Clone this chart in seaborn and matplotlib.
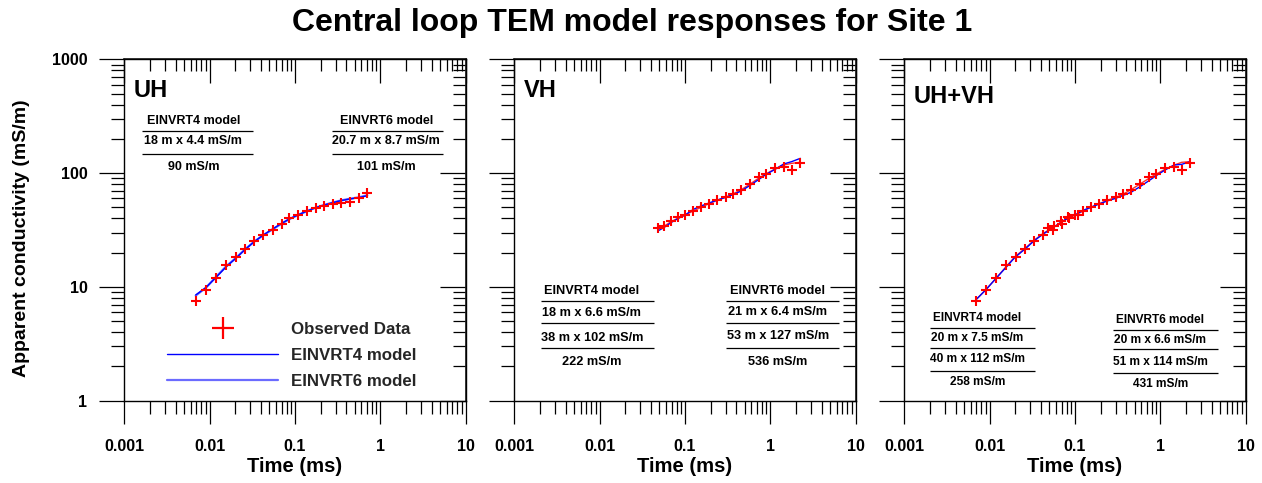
import numpy as np
import matplotlib
matplotlib.use("Agg")
import matplotlib.pyplot as plt
from matplotlib.ticker import FixedLocator, FixedFormatter, LogLocator, NullFormatter
from matplotlib.lines import Line2D
import seaborn as sns

sns.set_theme(style="white")
plt.rcParams["font.family"] = ["Liberation Sans", "DejaVu Sans"]
plt.rcParams["font.weight"] = "bold"

# ---------------- data ----------------
# UH (horizontal, in-line) sounding
uh_time = [0.00687, 0.0090, 0.01197, 0.01567, 0.0202, 0.0262, 0.0333, 0.0426, 0.0548, 0.0698,
           0.0857, 0.1077, 0.138, 0.175, 0.220, 0.277, 0.346, 0.438, 0.557, 0.703]
uh_obs = [7.56, 9.4, 11.9, 15.6, 18.4, 21.4, 25.5, 28.6, 31.6, 35.7,
          40.1, 42.8, 46.4, 49.7, 51.7, 53.2, 54.3, 56.1, 60.8, 67.3]
uh_inv4 = [8.49, 9.84, 12.2, 15.06, 17.8, 21.4, 24.97, 28.6, 32.3, 36.2,
           39.5, 42.8, 46.4, 49.7, 52.4, 55.0, 57.3, 59.2, 60.8, 63.3]
uh_inv6 = [8.4, 9.8, 12.3, 15.2, 17.9, 21.5, 25.0, 28.5, 32.1, 36.0,
           39.4, 42.7, 46.3, 49.7, 52.5, 55.1, 57.5, 59.5, 61.2, 63.8]

# VH (vertical) sounding
vh_time = [0.0487, 0.0567, 0.0685, 0.0835, 0.100, 0.1252, 0.154, 0.191, 0.239, 0.2996,
           0.362, 0.449, 0.572, 0.736, 0.882, 1.134, 1.432, 1.777, 2.246]
vh_obs = [33.2, 34.3, 37.9, 40.9, 42.8, 46.8, 50.0, 53.9, 57.6, 61.3,
          65.9, 71.5, 80.8, 93.0, 98.2, 110.1, 113.9, 106.5, 121.8]
vh_inv4 = [31.2, 33.2, 36.7, 40.0, 42.8, 48.0, 51.4, 54.6, 58.0, 61.3,
           64.6, 69.2, 77.6, 88.2, 96.9, 107.9, 120.2, 126.1, 134.8]
vh_inv6 = [32.5, 34.1, 37.4, 40.3, 42.8, 46.5, 50.0, 53.9, 57.6, 61.3,
           65.5, 71.0, 79.7, 90.6, 98.2, 108.6, 117.8, 121.8, 124.4]

# joint UH+VH inversion
joint_time = [0.00687, 0.0090, 0.01197, 0.01567, 0.0202, 0.0262, 0.0333, 0.0426, 0.0548, 0.0698,
              0.0857, 0.1077,
              0.0487, 0.0567, 0.0685, 0.0835, 0.100, 0.1252, 0.154, 0.191, 0.239, 0.2996,
              0.362, 0.449, 0.572, 0.736, 0.882, 1.134, 1.432, 1.777, 2.246]
joint_obs = [7.56, 9.4, 11.9, 15.6, 18.4, 21.4, 25.5, 28.6, 31.6, 35.7,
             40.1, 42.8,
             33.2, 34.3, 37.9, 40.9, 42.8, 46.8, 50.0, 53.9, 57.6, 61.3,
             65.9, 71.5, 80.8, 93.0, 98.2, 110.1, 113.9, 106.5, 121.8]
joint_model_time = [0.00705, 0.00898, 0.01208, 0.01583, 0.01982, 0.02595, 0.03338, 0.04256, 0.05573,
                    0.0698, 0.0858, 0.1027, 0.1274, 0.1526, 0.1876, 0.2392, 0.2996, 0.3684,
                    0.4531, 0.5776, 0.7363, 0.8815, 1.134, 1.458, 1.777, 2.246]
joint_inv4 = [7.83, 9.40, 12.06, 15.07, 18.2, 21.5, 25.5, 29.2, 33.2, 37.4, 40.9, 43.4, 47.4,
              50.0, 53.2, 56.9, 60.0, 63.8, 67.8, 76.0, 85.8, 94.3, 106.5, 117.8, 119.4, 126.1]
joint_inv6 = [7.83, 9.40, 12.06, 15.27, 18.44, 21.8, 25.8, 29.6, 33.4, 37.2, 40.6, 43.1, 46.8,
              50.0, 53.5, 57.6, 61.3, 65.5, 71.5, 80.2, 89.9, 97.5, 107.9, 117.8, 124.4, 126.1]

x_ticks = [0.001, 0.01, 0.1, 1, 10]
x_tick_labels = ["0.001", "0.01", "0.1", "1", "10"]
y_ticks = [1, 10, 100, 1000]
y_tick_labels = ["1", "10", "100", "1000"]

panel_names = ["UH", "VH", "UH+VH"]

# layered-earth summaries printed on each panel
uh_box4 = ["EINVRT4 model", "18 m x 4.4 mS/m", "90 mS/m"]
uh_box6 = ["EINVRT6 model", "20.7 m x 8.7 mS/m", "101 mS/m"]
vh_box4 = ["EINVRT4 model", "18 m x 6.6 mS/m", "38 m x 102 mS/m", "222 mS/m"]
vh_box6 = ["EINVRT6 model", "21 m x 6.4 mS/m", "53 m x 127 mS/m", "536 mS/m"]
jt_box4 = ["EINVRT4 model", "20 m x 7.5 mS/m", "40 m x 112 mS/m", "258 mS/m"]
jt_box6 = ["EINVRT6 model", "20 m x 6.6 mS/m", "51 m x 114 mS/m", "431 mS/m"]

RED = "#ff0000"
BLUE = "#0000ff"
LIGHT_BLUE = "#6b6bff"
MODEL_RED = "#ff3030"

W, H = 1262, 483
fig = plt.figure(figsize=(W / 100, H / 100), dpi=100)
fig.patch.set_facecolor("white")

lefts = [124.3, 514.3, 904.3]
size = 341.4
bottom = 82.3


def style_axes(ax, show_ylabels):
    ax.set_xscale("log")
    ax.set_yscale("log")
    ax.set_xlim(0.001, 10)
    ax.set_ylim(1, 1000)
    ax.set_facecolor("white")
    for sp in ax.spines.values():
        sp.set_visible(True)
        sp.set_color("black")
        sp.set_linewidth(1.0)
    ax.xaxis.set_major_locator(FixedLocator(x_ticks))
    ax.xaxis.set_major_formatter(FixedFormatter(x_tick_labels))
    ax.xaxis.set_minor_locator(LogLocator(base=10, subs=np.arange(2, 10)))
    ax.xaxis.set_minor_formatter(NullFormatter())
    ax.yaxis.set_major_locator(FixedLocator(y_ticks))
    ax.yaxis.set_major_formatter(FixedFormatter(y_tick_labels))
    ax.yaxis.set_minor_locator(LogLocator(base=10, subs=np.arange(2, 10)))
    ax.yaxis.set_minor_formatter(NullFormatter())
    ax.tick_params(axis="x", which="both", bottom=True, top=False, direction="out",
                   color="black", width=0.9)
    ax.tick_params(axis="x", which="major", length=16.5, pad=11, labelsize=11.5)
    ax.tick_params(axis="x", which="minor", length=9.4)
    ax.tick_params(axis="y", which="both", left=True, right=False, direction="out",
                   color="black", width=0.9, labelleft=show_ylabels)
    ax.tick_params(axis="y", which="major", length=18, pad=8.5, labelsize=11.5)
    ax.tick_params(axis="y", which="minor", length=9.4)
    for lab in ax.get_xticklabels() + ax.get_yticklabels():
        lab.set_fontweight("bold")
        lab.set_color("black")

    top = ax.secondary_xaxis("top")
    top.xaxis.set_major_locator(FixedLocator(x_ticks))
    top.xaxis.set_minor_locator(LogLocator(base=10, subs=np.arange(2, 10)))
    top.xaxis.set_major_formatter(NullFormatter())
    top.xaxis.set_minor_formatter(NullFormatter())
    top.tick_params(which="both", direction="in", color="black", width=0.9)
    top.tick_params(which="major", length=17)
    top.tick_params(which="minor", length=8.7)

    right = ax.secondary_yaxis("right")
    right.yaxis.set_major_locator(FixedLocator(y_ticks))
    right.yaxis.set_minor_locator(LogLocator(base=10, subs=np.arange(2, 10)))
    right.yaxis.set_major_formatter(NullFormatter())
    right.yaxis.set_minor_formatter(NullFormatter())
    right.tick_params(which="both", direction="in", color="black", width=0.9)
    right.tick_params(which="major", length=18.5)
    right.tick_params(which="minor", length=9.6)

    ax.set_xlabel("Time (ms)", fontsize=14.6, fontweight="bold", color="black")
    ax.xaxis.label.set_va("center")
    ax.xaxis.set_label_coords(0.5, -0.193)


def stats_box(ax, rows, cx, x0, x1, text_y, line_y, fs):
    for s, y in zip(rows, text_y):
        ax.text(cx, y, s, transform=ax.transAxes, ha="center", va="center",
                fontsize=fs, fontweight="bold", color="black")
    for y in line_y:
        ax.plot([x0, x1], [y, y], transform=ax.transAxes, color="black", lw=0.9,
                solid_capstyle="butt")


axes = []
for i, l in enumerate(lefts):
    ax = fig.add_axes([l / W, bottom / H, size / W, size / H])
    style_axes(ax, show_ylabels=(i == 0))
    axes.append(ax)

scatter_kw = dict(marker="+", s=48, color=RED, linewidth=1.5, zorder=5, legend=False)

# ---- UH ----
ax = axes[0]
sns.lineplot(x=uh_time, y=uh_inv6, ax=ax, color=LIGHT_BLUE, linewidth=1.6, sort=False,
             estimator=None, zorder=3)
sns.lineplot(x=uh_time, y=uh_inv4, ax=ax, color=BLUE, linewidth=1.0, sort=False,
             estimator=None, zorder=4)
sns.scatterplot(x=uh_time, y=uh_obs, ax=ax, **scatter_kw)
stats_box(ax, uh_box4, 0.202, 0.051, 0.378, [0.820, 0.762, 0.684], [0.791, 0.7235], 9)
stats_box(ax, uh_box6, 0.767, 0.609, 0.934, [0.820, 0.762, 0.684], [0.791, 0.7235], 9)

handles = [Line2D([], [], marker="+", color=RED, ls="", ms=16, mew=1.6),
           Line2D([], [], color=BLUE, lw=1.0),
           Line2D([], [], color=LIGHT_BLUE, lw=1.6)]
leg = ax.legend(handles, ["Observed Data", "EINVRT4 model", "EINVRT6 model"],
                loc="upper left", bbox_to_anchor=(0.124, 0.230), frameon=False,
                handlelength=6.6, handletextpad=0.73, labelspacing=0.65,
                borderaxespad=0, borderpad=0, prop={"size": 12.2, "weight": "bold"})

# ---- VH ----
ax = axes[1]
sns.lineplot(x=vh_time, y=vh_inv6, ax=ax, color=MODEL_RED, linewidth=1.0, sort=False,
             estimator=None, zorder=3)
sns.lineplot(x=vh_time, y=vh_inv4, ax=ax, color=BLUE, linewidth=1.0, sort=False,
             estimator=None, zorder=4)
sns.scatterplot(x=vh_time, y=vh_obs, ax=ax, **scatter_kw)
stats_box(ax, vh_box4, 0.2267, 0.078, 0.409, [0.3213, 0.2578, 0.1837, 0.1125],
          [0.2912, 0.2267, 0.1535], 9.2)
stats_box(ax, vh_box6, 0.772, 0.620, 0.952, [0.3213, 0.2600, 0.1890, 0.1125],
          [0.2912, 0.2267, 0.1535], 9.2)

# ---- UH+VH ----
ax = axes[2]
sns.lineplot(x=joint_model_time, y=joint_inv6, ax=ax, color=MODEL_RED, linewidth=1.0,
             sort=False, estimator=None, zorder=3)
sns.lineplot(x=joint_model_time, y=joint_inv4, ax=ax, color=BLUE, linewidth=1.0,
             sort=False, estimator=None, zorder=4)
sns.scatterplot(x=joint_time, y=joint_obs, ax=ax, **scatter_kw)
stats_box(ax, jt_box4, 0.2144, 0.0753, 0.3829, [0.2414, 0.1828, 0.1213, 0.0539],
          [0.2121, 0.1544, 0.0879], 8.6)
stats_box(ax, jt_box6, 0.750, 0.6104, 0.918, [0.2365, 0.1779, 0.1142, 0.0489],
          [0.2072, 0.1506, 0.082], 8.6)

# panel names
for ax, name, yb in zip(axes, panel_names, [0.8905, 0.8905, 0.873]):
    ax.text(0.027, yb, name, transform=ax.transAxes, ha="left", va="baseline",
            fontsize=17, fontweight="bold", color="black")

fig.text(0.0174, 1 - 238 / H, "Apparent conductivity (mS/m)", rotation=90,
         ha="center", va="center", fontsize=14, fontweight="bold", color="black")
fig.text(632 / W, 1 - 23 / H, "Central loop TEM model responses for Site 1",
         ha="center", va="center", fontsize=23, fontweight="bold", color="black")

fig.savefig("out.png", dpi=100, facecolor="white")
